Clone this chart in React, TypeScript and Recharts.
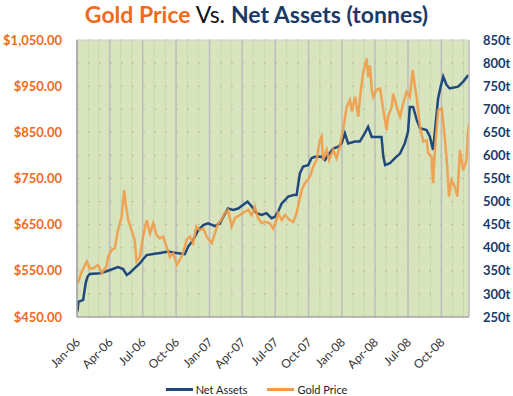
import React from 'react';
import { LineChart, Line, XAxis, YAxis, CartesianGrid, Legend, ReferenceLine } from 'recharts';

const goldDates = [
  '2006-01-03','2006-01-14','2006-01-28','2006-02-05','2006-02-14','2006-02-28','2006-03-10','2006-03-23','2006-03-28','2006-04-06',
  '2006-04-15','2006-04-24','2006-05-04','2006-05-11','2006-05-15','2006-05-22','2006-05-31','2006-06-09','2006-06-14','2006-06-23',
  '2006-07-02','2006-07-12','2006-07-21','2006-07-30','2006-08-08','2006-08-17','2006-08-26','2006-09-05','2006-09-14','2006-09-23',
  '2006-10-03','2006-10-11','2006-10-20','2006-10-30','2006-11-08','2006-11-17','2006-11-26','2006-12-05','2006-12-15','2006-12-24',
  '2007-01-07','2007-01-16','2007-01-25','2007-02-03','2007-02-12','2007-02-21','2007-03-03','2007-03-12','2007-03-26','2007-04-08',
  '2007-04-18','2007-04-27','2007-05-06','2007-05-15','2007-05-25','2007-06-03','2007-06-16','2007-06-25','2007-07-05','2007-07-09',
  '2007-07-19','2007-07-28','2007-08-10','2007-08-20','2007-08-29','2007-09-12','2007-09-21','2007-10-05','2007-10-14','2007-10-23',
  '2007-11-01','2007-11-06','2007-11-10','2007-11-20','2007-11-26','2007-12-08','2007-12-17','2007-12-26','2008-01-04','2008-01-14',
  '2008-01-23','2008-01-28','2008-02-06','2008-02-15','2008-02-19','2008-02-28','2008-03-09','2008-03-13','2008-03-18','2008-03-23',
  '2008-03-27','2008-04-05','2008-04-15','2008-04-24','2008-05-03','2008-05-07','2008-05-17','2008-05-21','2008-05-31','2008-06-09',
  '2008-06-18','2008-06-27','2008-07-06','2008-07-14','2008-07-20','2008-07-25','2008-08-03','2008-08-12','2008-08-21','2008-08-26',
  '2008-09-04','2008-09-08','2008-09-13','2008-09-22','2008-10-02','2008-10-11','2008-10-17','2008-10-22','2008-10-29','2008-11-07',
  '2008-11-14','2008-11-21','2008-11-30','2008-12-09','2008-12-13','2008-12-16',
];
const goldPrices = [
  523, 548, 570, 555, 555, 563, 545, 559, 581, 595,
  599, 638, 667, 725, 696, 660, 638, 617, 570, 580,
  624, 660, 631, 653, 628, 620, 624, 602, 580, 588,
  563, 573, 588, 617, 624, 610, 646, 638, 642, 624,
  610, 631, 653, 660, 675, 682, 646, 664, 671, 678,
  682, 671, 689, 664, 653, 656, 653, 642, 660, 675,
  660, 671, 660, 656, 675, 725, 740, 754, 776, 790,
  833, 841, 790, 812, 790, 812, 794, 819, 855, 905,
  920, 895, 927, 884, 920, 978, 1010, 970, 995, 942,
  927, 942, 945, 898, 855, 884, 905, 934, 905, 884,
  913, 938, 927, 985, 949, 924, 862, 830, 833, 804,
  797, 740, 812, 898, 902, 833, 776, 711, 747, 732,
  711, 812, 768, 790, 848, 870,
];

const assetDates = [
  '2006-01-02','2006-01-05','2006-01-18','2006-01-25','2006-01-30','2006-02-05','2006-03-05','2006-03-19','2006-04-06','2006-04-24',
  '2006-05-08','2006-05-18','2006-05-27','2006-06-09','2006-06-23','2006-07-02','2006-07-12','2006-08-03','2006-08-22','2006-09-09',
  '2006-09-28','2006-10-25','2006-11-03','2006-11-17','2006-12-01','2006-12-15','2006-12-28','2007-01-16','2007-01-30','2007-02-08',
  '2007-02-21','2007-03-07','2007-03-21','2007-04-04','2007-04-16','2007-04-27','2007-05-11','2007-05-25','2007-06-07','2007-06-21',
  '2007-06-30','2007-07-09','2007-07-19','2007-07-28','2007-08-06','2007-08-20','2007-08-29','2007-09-07','2007-09-16','2007-09-30',
  '2007-10-09','2007-10-18','2007-11-06','2007-11-15','2007-11-24','2007-12-08','2007-12-22','2007-12-31','2008-01-09','2008-01-18',
  '2008-02-06','2008-02-19','2008-03-04','2008-03-13','2008-03-23','2008-04-19','2008-04-24','2008-04-29','2008-05-12','2008-05-26',
  '2008-06-09','2008-06-22','2008-07-01','2008-07-06','2008-07-15','2008-07-25','2008-08-03','2008-08-21','2008-08-30','2008-09-08',
  '2008-09-17','2008-09-22','2008-09-29','2008-10-06','2008-10-15','2008-10-24','2008-11-16','2008-11-30','2008-12-14',
];
const assetTonnes = [
  262, 283, 287, 324, 337, 343, 345, 348, 353, 358,
  354, 341, 346, 356, 366, 375, 384, 387, 389, 392,
  389, 386, 402, 417, 438, 449, 453, 447, 453, 467,
  485, 482, 485, 493, 500, 490, 475, 471, 475, 464,
  467, 478, 496, 503, 511, 514, 514, 561, 576, 579,
  594, 597, 597, 590, 601, 615, 619, 626, 648, 626,
  630, 630, 648, 662, 640, 640, 597, 579, 583, 594,
  604, 626, 651, 705, 705, 677, 659, 655, 641, 612,
  684, 724, 749, 771, 753, 745, 749, 760, 774,
];

const quarterDates = ['2006-01-01','2006-04-01','2006-07-01','2006-10-01','2007-01-01','2007-04-01','2007-07-01','2007-10-01','2008-01-01','2008-04-01','2008-07-01','2008-10-01'];
const quarterLabels = ['Jan-06','Apr-06','Jul-06','Oct-06','Jan-07','Apr-07','Jul-07','Oct-07','Jan-08','Apr-08','Jul-08','Oct-08'];
const priceTicks = [450, 550, 650, 750, 850, 950, 1050];
const tonneTicks = [250, 300, 350, 400, 450, 500, 550, 600, 650, 700, 750, 800, 850];
const xStart = '2006-01-01';
const xEnd = '2008-12-16';

const ts = (d: string) => {
  const [y, m, day] = d.split('-').map(Number);
  return Date.UTC(y, m - 1, day);
};

const goldData = goldDates.map((d, i) => ({ t: ts(d), gold: goldPrices[i] }));
const assetData = assetDates.map((d, i) => ({ t: ts(d), assets: assetTonnes[i] }));
const quarterTs = quarterDates.map(ts);
const monthTs: number[] = [];
for (let y = 2006; y <= 2008; y++) for (let m = 0; m < 12; m++) monthTs.push(Date.UTC(y, m, 1));
const T0 = ts(xStart);
const T1 = ts(xEnd);

const ORANGE_TEXT = '#F26A1B';
const NAVY_TEXT = '#1B3A66';
const BLUE = '#1F497D';
const GOLD = '#F29A45';
const FONT = 'Lato, "Open Sans", sans-serif';

const fmtPrice = (v: number) => '$' + v.toLocaleString('en-US', { minimumFractionDigits: 2, maximumFractionDigits: 2 });

const monthGen = ({ offset }: any) =>
  monthTs.filter((m) => m > T0 && m <= T1 && !quarterTs.includes(m)).map((m) => offset.left + ((m - T0) / (T1 - T0)) * offset.width);

const XTick = (props: any) => {
  const { x, y, payload } = props;
  const idx = quarterTs.indexOf(payload.value);
  const label = idx >= 0 ? quarterLabels[idx] : '';
  return (
    <g transform={`translate(${x + 4},${y + 18})`}>
      <text transform="rotate(-45)" textAnchor="end" fontSize={12} fill="#333" fontFamily={FONT}>{label}</text>
    </g>
  );
};

const LegendContent = () => (
  <div style={{ display: 'flex', justifyContent: 'center', alignItems: 'center', fontFamily: FONT, fontSize: 11, color: '#222' }}>
    <span style={{ display: 'inline-block', width: 27, height: 2.5, background: BLUE, marginRight: 3 }} />
    <span style={{ marginRight: 20 }}>Net Assets</span>
    <span style={{ display: 'inline-block', width: 27, height: 2.5, background: GOLD, marginRight: 3 }} />
    <span>Gold Price</span>
  </div>
);

export default function App() {
  return (
    <div style={{ position: 'absolute', left: 0, top: 0, width: 513, height: 396, background: '#fff' }}>
      <div style={{ position: 'absolute', left: 0, top: 0, width: 513, textAlign: 'center', fontFamily: FONT, fontSize: 23, fontWeight: 700, lineHeight: '28px' }}>
        <span style={{ color: ORANGE_TEXT }}>Gold Price</span>
        <span style={{ color: '#111', fontWeight: 400 }}> Vs. </span>
        <span style={{ color: NAVY_TEXT }}>Net Assets (tonnes)</span>
      </div>
      <LineChart width={513} height={396} margin={{ top: 40, right: 0, bottom: 0, left: 0 }} style={{ position: 'absolute', left: 0, top: 0 }}>
        <CartesianGrid yAxisId="right" fill="#D7E4BD" fillOpacity={1} horizontal={false}
          verticalCoordinatesGenerator={monthGen} stroke="#CCD9B0" strokeWidth={1} />
        <CartesianGrid yAxisId="right" horizontal={false} stroke="#BDBDBD" strokeWidth={1.5} />
        <CartesianGrid yAxisId="right" vertical={false} stroke="#B3BC9A" strokeDasharray="2 9" />
        <XAxis dataKey="t" type="number" domain={[T0, T1]} ticks={quarterTs} allowDataOverflow
          height={79} tickLine={false} axisLine={{ stroke: '#A6A6A6', strokeWidth: 1.5 }} tick={<XTick />} interval={0} />
        <YAxis yAxisId="left" orientation="left" width={77} domain={[450, 1050]} ticks={priceTicks} tickFormatter={fmtPrice}
          tickLine={false} axisLine={{ stroke: '#A6A6A6', strokeWidth: 1.5 }} tickMargin={9} interval={0}
          tick={{ fill: ORANGE_TEXT, fontSize: 13, fontWeight: 700, fontFamily: FONT }} />
        <YAxis yAxisId="right" orientation="right" width={44} domain={[250, 850]} ticks={tonneTicks} tickFormatter={(v: number) => v + 't'}
          tickLine={false} axisLine={{ stroke: '#C8C8C8' }} tickMargin={8} interval={0}
          tick={{ fill: NAVY_TEXT, fontSize: 13, fontWeight: 700, fontFamily: FONT, textAnchor: 'start' }} />
        <ReferenceLine yAxisId="right" y={850} stroke="#D0D0D0" />
        <Line yAxisId="right" data={assetData} dataKey="assets" name="Net Assets" stroke={BLUE} strokeWidth={2.5} dot={false}
          isAnimationActive={false} legendType="plainline" />
        <Line yAxisId="left" data={goldData} dataKey="gold" name="Gold Price" stroke={GOLD} strokeOpacity={0.88} strokeWidth={2.5} dot={false}
          isAnimationActive={false} legendType="plainline" />
        <Legend layout="horizontal" verticalAlign="middle" align="center" content={<LegendContent />}
          wrapperStyle={{ top: 383, left: 0, width: 513 }} />
      </LineChart>
    </div>
  );
}
